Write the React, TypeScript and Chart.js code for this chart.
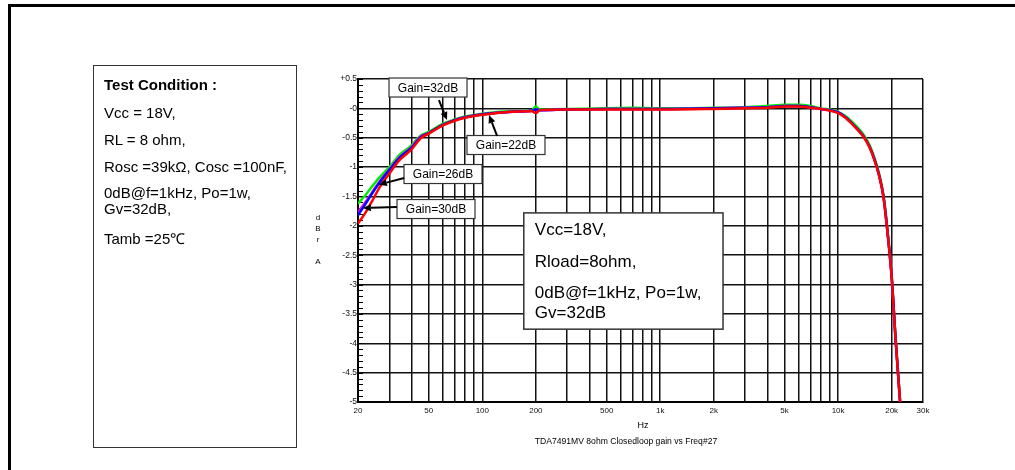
import { useEffect, useRef } from "react";
import { Chart, registerables } from "chart.js";

Chart.register(...registerables);

const FONT = '"Liberation Sans", Arial, Helvetica, sans-serif';

// ---------- data ----------
const freqHz = [20, 22, 24, 26.5, 30, 34, 40, 45, 50, 60, 70, 80, 100, 140, 190, 200, 210, 300, 500, 700, 1000, 2000, 3000, 4000, 5000, 6000, 7000, 8000, 9000, 10000, 11000, 12000, 13000, 14000, 15000, 16000, 17000, 18000, 19000, 20000, 21000, 22300];

const gain32 = [-1.62, -1.48, -1.33, -1.17, -1.0, -0.8, -0.63, -0.46, -0.4, -0.26, -0.19, -0.14, -0.09, -0.05, -0.03, 0.03, -0.02, -0.01, 0.0, 0.01, 0.0, 0.01, 0.02, 0.04, 0.06, 0.06, 0.04, 0.0, -0.02, -0.06, -0.13, -0.23, -0.34, -0.46, -0.62, -0.84, -1.11, -1.48, -2.1, -2.84, -3.86, -4.97];
const gain30 = [-1.77, -1.6, -1.43, -1.24, -1.04, -0.84, -0.66, -0.48, -0.42, -0.28, -0.2, -0.15, -0.1, -0.06, -0.04, -0.02, -0.03, -0.02, -0.01, -0.01, -0.01, 0.0, 0.01, 0.02, 0.04, 0.04, 0.02, -0.01, -0.03, -0.07, -0.15, -0.26, -0.37, -0.49, -0.65, -0.87, -1.14, -1.51, -2.14, -2.87, -3.89, -5.0];
const gain26 = [-1.82, -1.63, -1.45, -1.26, -1.05, -0.85, -0.67, -0.49, -0.42, -0.28, -0.2, -0.15, -0.1, -0.06, -0.04, -0.02, -0.03, -0.02, -0.01, -0.01, -0.01, 0.0, 0.01, 0.02, 0.04, 0.04, 0.02, -0.01, -0.03, -0.07, -0.15, -0.26, -0.37, -0.49, -0.65, -0.87, -1.14, -1.51, -2.14, -2.87, -3.89, -5.0];
const gain22 = [-1.96, -1.78, -1.58, -1.34, -1.11, -0.89, -0.7, -0.51, -0.43, -0.29, -0.21, -0.16, -0.11, -0.06, -0.05, -0.08, -0.03, -0.02, -0.02, -0.02, -0.02, -0.01, 0.0, 0.01, 0.03, 0.03, 0.01, -0.01, -0.04, -0.08, -0.16, -0.27, -0.38, -0.5, -0.66, -0.88, -1.15, -1.52, -2.15, -2.88, -3.9, -5.0];

const seriesNames = ["Gain=22dB", "Gain=26dB", "Gain=30dB", "Gain=32dB"];

const xGridFreqs = [20, 30, 40, 50, 60, 70, 80, 90, 100, 200, 300, 400, 500, 600, 700, 800, 900, 1000, 2000, 3000, 4000, 5000, 6000, 7000, 8000, 9000, 10000, 20000, 30000];
const xLabelFreqs = [20, 50, 100, 200, 500, 1000, 2000, 5000, 10000, 20000, 30000];
const xLabelTexts = ["20", "50", "100", "200", "500", "1k", "2k", "5k", "10k", "20k", "30k"];

const yMajorValues = [0.5, 0, -0.5, -1, -1.5, -2, -2.5, -3, -3.5, -4, -4.5, -5];
const yLabelTexts = ["+0.5", "-0", "-0.5", "-1", "-1.5", "-2", "-2.5", "-3", "-3.5", "-4", "-4.5", "-5"];

// annotation callouts (data coordinates)
const calloutTexts = ["Gain=32dB", "Gain=22dB", "Gain=26dB", "Gain=30dB"];
const calloutFreq = [49.5, 135.8, 60.1, 54.9];
const calloutDb = [0.355, -0.624, -1.118, -1.714];
const arrowFromFreq = [57, 121, 36.3, 33.1];
const arrowFromDb = [0.142, -0.47, -1.186, -1.68];
const arrowToFreq = [63.3, 109, 26.2, 21.3];
const arrowToDb = [-0.198, -0.113, -1.3, -1.697];

const noteLines = ["Vcc=18V,", "Rload=8ohm,", "0dB@f=1kHz, Po=1w,", "Gv=32dB"];
const noteFreqRange = [171, 2254];
const noteDbRange = [-1.78, -3.76];

const conditionTitle = "Test Condition :";
const conditionLines = ["Vcc = 18V,", "RL = 8 ohm,", "Rosc =39kΩ, Cosc =100nF,", "0dB@f=1kHz, Po=1w,", "Gv=32dB,", "Tamb =25℃"];

const xAxisTitle = "Hz";
const yAxisTitle = ["d", "B", "r", "", "A"];
const caption = "TDA7491MV 8ohm Closedloop gain vs Freq#27";

function findLabel(values: number[], texts: string[], v: number): string {
  for (let i = 0; i < values.length; i++) {
    if (Math.abs(values[i] - v) < 1e-6 * Math.max(1, Math.abs(v))) return texts[i];
  }
  return "";
}

const minorTicksPlugin = {
  id: "minorTicks",
  beforeDatasetsDraw(chart: any) {
    const { ctx, chartArea } = chart;
    const y = chart.scales.y;
    ctx.save();
    ctx.strokeStyle = "#000";
    ctx.lineWidth = 1;
    ctx.beginPath();
    for (let i = 0; i <= 55; i++) {
      const v = -5 + i * 0.1;
      const py = Math.round(y.getPixelForValue(v)) + 0.5;
      ctx.moveTo(chartArea.left, py);
      ctx.lineTo(chartArea.left + 5, py);
    }
    ctx.stroke();
    ctx.restore();
  },
};

function drawArrow(ctx: CanvasRenderingContext2D, x1: number, y1: number, x2: number, y2: number) {
  const ang = Math.atan2(y2 - y1, x2 - x1);
  const head = 8;
  const hw = 3.5;
  const bx = x2 - head * Math.cos(ang);
  const by = y2 - head * Math.sin(ang);
  ctx.beginPath();
  ctx.moveTo(x1, y1);
  ctx.lineTo(bx, by);
  ctx.lineWidth = 2;
  ctx.strokeStyle = "#000";
  ctx.stroke();
  ctx.beginPath();
  ctx.moveTo(x2, y2);
  ctx.lineTo(bx + hw * Math.sin(ang), by - hw * Math.cos(ang));
  ctx.lineTo(bx - hw * Math.sin(ang), by + hw * Math.cos(ang));
  ctx.closePath();
  ctx.fillStyle = "#000";
  ctx.fill();
}

const annotationsPlugin = {
  id: "annotations",
  afterDatasetsDraw(chart: any) {
    const { ctx } = chart;
    const xs = chart.scales.x;
    const ys = chart.scales.y;
    ctx.save();
    // note box
    const l = xs.getPixelForValue(noteFreqRange[0]);
    const r = xs.getPixelForValue(noteFreqRange[1]);
    const t = ys.getPixelForValue(noteDbRange[0]);
    const b = ys.getPixelForValue(noteDbRange[1]);
    ctx.fillStyle = "#fff";
    ctx.fillRect(l, t, r - l, b - t);
    ctx.strokeStyle = "#333";
    ctx.lineWidth = 1.5;
    ctx.strokeRect(l, t, r - l, b - t);
    ctx.fillStyle = "#000";
    ctx.font = `17px ${FONT}`;
    ctx.textAlign = "left";
    ctx.textBaseline = "middle";
    const offs = [17, 49, 80, 100];
    noteLines.forEach((s, i) => ctx.fillText(s, l + 11, t + offs[i]));

    // callouts
    for (let i = 0; i < calloutTexts.length; i++) {
      const cx = xs.getPixelForValue(calloutFreq[i]);
      const cy = ys.getPixelForValue(calloutDb[i]);
      const w = 78;
      const h = 19;
      ctx.fillStyle = "#fff";
      ctx.fillRect(cx - w / 2, cy - h / 2, w, h);
      ctx.strokeStyle = "#333";
      ctx.lineWidth = 1.2;
      ctx.strokeRect(cx - w / 2, cy - h / 2, w, h);
      ctx.fillStyle = "#000";
      ctx.font = `12px ${FONT}`;
      ctx.textAlign = "center";
      ctx.textBaseline = "middle";
      ctx.fillText(calloutTexts[i], cx, cy + 1);
      drawArrow(
        ctx,
        xs.getPixelForValue(arrowFromFreq[i]),
        ys.getPixelForValue(arrowFromDb[i]),
        xs.getPixelForValue(arrowToFreq[i]),
        ys.getPixelForValue(arrowToDb[i])
      );
    }
    ctx.restore();
  },
};

export default function App() {
  const canvasRef = useRef<HTMLCanvasElement | null>(null);

  useEffect(() => {
    const canvas = canvasRef.current;
    if (!canvas) return;
    const mk = (arr: number[]) => freqHz.map((f, i) => ({ x: f, y: arr[i] }));
    const chart = new Chart(canvas, {
      type: "line",
      data: {
        datasets: [
          { label: seriesNames[0], data: mk(gain22), borderColor: "#ff0000", order: 0 },
          { label: seriesNames[1], data: mk(gain26), borderColor: "#0000ff", order: 1 },
          { label: seriesNames[2], data: mk(gain30), borderColor: "#ff00ff", order: 2 },
          { label: seriesNames[3], data: mk(gain32), borderColor: "#00ee00", order: 3 },
        ].map((d) => ({
          ...d,
          borderWidth: 2.5,
          pointRadius: 0,
          fill: false,
          cubicInterpolationMode: "monotone" as const,
        })),
      },
      options: {
        responsive: false,
        animation: false,
        layout: { padding: { left: 318, right: 92, top: 79, bottom: 46 } },
        plugins: { legend: { display: false }, tooltip: { enabled: false } },
        scales: {
          x: {
            type: "logarithmic",
            min: 20,
            max: 30000,
            afterBuildTicks: (s: any) => {
              s.ticks = xGridFreqs.map((v) => ({ value: v }));
            },
            afterFit: (s: any) => {
              s.height = 22;
            },
            grid: { color: "#111", lineWidth: 1.5, drawTicks: false },
            border: { display: true, color: "#000", width: 2 },
            ticks: {
              autoSkip: false,
              maxRotation: 0,
              minRotation: 0,
              padding: 4,
              color: "#111",
              font: { family: FONT, size: 8 },
              callback: (v: any) => findLabel(xLabelFreqs, xLabelTexts, Number(v)),
            },
          },
          y: {
            type: "linear",
            min: -5,
            max: 0.5,
            afterBuildTicks: (s: any) => {
              s.ticks = yMajorValues.map((v) => ({ value: v }));
            },
            afterFit: (s: any) => {
              s.width = 40;
            },
            grid: { color: "#111", lineWidth: 1.5, drawTicks: false },
            border: { display: true, color: "#000", width: 2 },
            ticks: {
              padding: 1,
              color: "#111",
              font: { family: FONT, size: 8.5 },
              callback: (v: any) => findLabel(yMajorValues, yLabelTexts, Number(v)),
            },
          },
        },
      },
      plugins: [minorTicksPlugin, annotationsPlugin],
    } as any);
    return () => chart.destroy();
  }, []);

  const abs = (s: any) => ({ position: "absolute" as const, ...s });

  return (
    <div style={{ position: "fixed", left: 0, top: 0, width: 1015, height: 470, background: "#fff", overflow: "hidden", fontFamily: FONT, color: "#000" }}>
      <div style={abs({ left: 8, top: 4, width: 1100, height: 500, borderTop: "3px solid #000", borderLeft: "3px solid #000" })} />
      <canvas ref={canvasRef} width={1015} height={470} style={abs({ left: 0, top: 0, width: 1015, height: 470 })} />
      <div style={abs({ left: 93, top: 65, width: 202, height: 381, border: "1.5px solid #333", background: "#fff" })} />
      <div style={abs({ left: 104, top: 77, fontSize: 15, fontWeight: "bold", lineHeight: "16px", whiteSpace: "nowrap" })}>{conditionTitle}</div>
      {conditionLines.map((s, i) => {
        const centers = [113, 139.5, 166.5, 193, 209, 239];
        return (
          <div key={i} style={abs({ left: 104, top: centers[i] - 8, fontSize: 15, lineHeight: "16px", whiteSpace: "nowrap" })}>{s}</div>
        );
      })}
      <div style={abs({ left: 313, top: 212, width: 10, fontSize: 8, lineHeight: "11px", textAlign: "center" })}>
        {yAxisTitle.map((c, i) => (
          <div key={i} style={{ height: 11 }}>{c}</div>
        ))}
      </div>
      <div style={abs({ left: 623, top: 420, width: 40, textAlign: "center", fontSize: 9, lineHeight: "11px" })}>{xAxisTitle}</div>
      <div style={abs({ left: 476, top: 436, width: 300, textAlign: "center", fontSize: 8.6, lineHeight: "11px", whiteSpace: "nowrap" })}>{caption}</div>
    </div>
  );
}
